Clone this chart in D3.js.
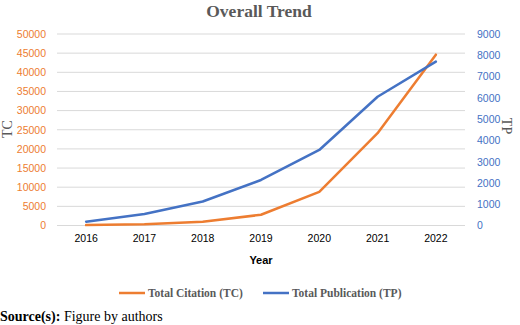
<!DOCTYPE html>
<html><head><meta charset="utf-8">
<script src="https://cdn.jsdelivr.net/npm/d3@7"></script>
<style>body{margin:0;background:#fff}svg{display:block}</style>
</head><body><svg id="c" width="520" height="325"></svg>
<script>
const years = ["2016","2017","2018","2019","2020","2021","2022"];
const tcValues = [100, 300, 1000, 2800, 8800, 24100, 44600];
const tpValues = [180, 540, 1130, 2140, 3550, 6050, 7700];
const leftTicks = [0,5000,10000,15000,20000,25000,30000,35000,40000,45000,50000];
const rightTicks = [0,1000,2000,3000,4000,5000,6000,7000,8000,9000];

const svg = d3.select("#c");
const x = d3.scaleBand().domain(years).range([57, 465]);
const yL = d3.scaleLinear().domain([0, 50000]).range([225.5, 34]);
const yR = d3.scaleLinear().domain([0, 9000]).range([225.5, 34]);
const ORANGE = "#ED7D31", BLUE = "#4472C4";
const sans = "'Liberation Sans', Arial, sans-serif";
const serif = "'Liberation Serif', 'Times New Roman', serif";

svg.append("g").selectAll("line").data(leftTicks).join("line")
  .attr("x1", 57).attr("x2", 465)
  .attr("y1", d => yL(d)).attr("y2", d => yL(d))
  .attr("stroke", "#d9d9d9").attr("stroke-width", 1);

const gL = svg.append("g").attr("transform", "translate(57,0)")
  .call(d3.axisLeft(yL).tickValues(leftTicks).tickSize(0).tickPadding(11).tickFormat(d3.format("d")));
gL.select(".domain").remove();
gL.selectAll("text").attr("fill", ORANGE).style("font-family", sans).style("font-size", "10.5px");

const gR = svg.append("g").attr("transform", "translate(465,0)")
  .call(d3.axisRight(yR).tickValues(rightTicks).tickSize(0).tickPadding(12).tickFormat(d3.format("d")));
gR.select(".domain").remove();
gR.selectAll("text").attr("fill", BLUE).style("font-family", sans).style("font-size", "10.5px");

const gX = svg.append("g").attr("transform", "translate(0,225.5)")
  .call(d3.axisBottom(x).tickSize(0).tickPadding(9));
gX.select(".domain").remove();
gX.selectAll("text").attr("fill", "#000").style("font-family", sans).style("font-size", "10.5px");

const cx = d => x(d) + x.bandwidth()/2;
svg.append("path").datum(tcValues)
  .attr("d", d3.line().x((d,i) => cx(years[i])).y(d => yL(d)))
  .attr("fill", "none").attr("stroke", ORANGE).attr("stroke-width", 2.5).attr("stroke-linejoin","round").attr("stroke-linecap","round");
svg.append("path").datum(tpValues)
  .attr("d", d3.line().x((d,i) => cx(years[i])).y(d => yR(d)))
  .attr("fill", "none").attr("stroke", BLUE).attr("stroke-width", 2.5).attr("stroke-linejoin","round").attr("stroke-linecap","round");

svg.append("text").attr("x", 259).attr("y", 17).attr("text-anchor","middle")
  .attr("fill","#595959").style("font-family", serif).style("font-weight","bold").style("font-size","17.5px")
  .text("Overall Trend");

svg.append("text").attr("transform","translate(12,129) rotate(-90)").attr("text-anchor","middle")
  .attr("fill","#595959").style("font-family", serif).style("font-size","14px").text("TC");
svg.append("text").attr("transform","translate(502,126) rotate(90)").attr("text-anchor","middle")
  .attr("fill","#595959").style("font-family", serif).style("font-size","14px").text("TP");

svg.append("text").attr("x", 261).attr("y", 264).attr("text-anchor","middle")
  .attr("fill","#000").style("font-family", sans).style("font-weight","bold").style("font-size","11px").text("Year");

const legend = [{label:"Total Citation (TC)", color:ORANGE, x:119},{label:"Total Publication (TP)", color:BLUE, x:263}];
const lg = svg.append("g").selectAll("g").data(legend).join("g").attr("transform", d => `translate(${d.x},293)`);
lg.append("line").attr("x1",0).attr("x2",26).attr("y1",0).attr("y2",0).attr("stroke", d=>d.color).attr("stroke-width",2.5);
lg.append("text").attr("x",29).attr("y",4).attr("fill","#595959").style("font-family", serif).style("font-weight","bold").style("font-size","11.5px").text(d=>d.label);

const src = svg.append("text").attr("x", 0).attr("y", 321).attr("fill","#000").style("font-family", serif).style("font-size","14px");
src.append("tspan").style("font-weight","bold").text("Source(s):");
src.append("tspan").text(" Figure by authors");
</script></body></html>
